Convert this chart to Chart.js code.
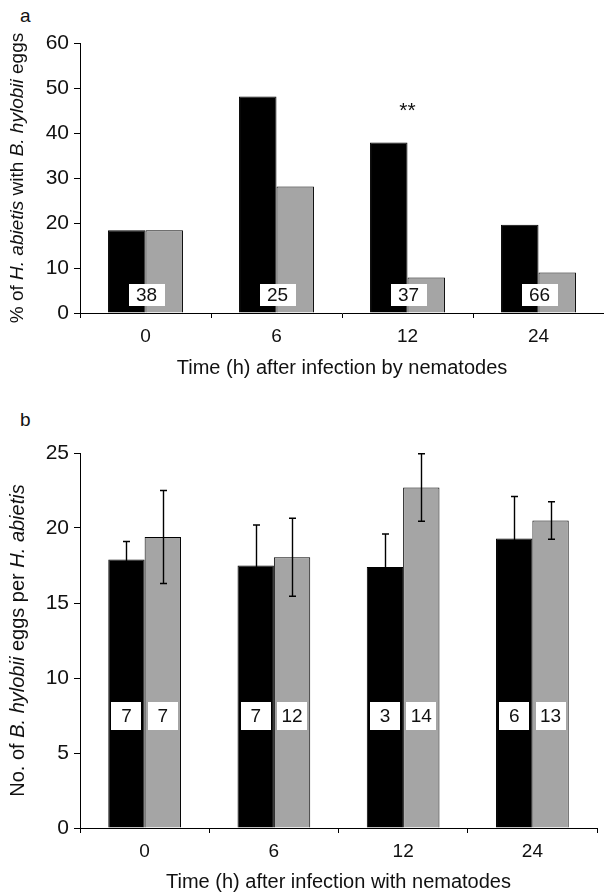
<!DOCTYPE html>
<html><head><meta charset="utf-8">
<script src="https://cdn.jsdelivr.net/npm/chart.js@4.4.0/dist/chart.umd.min.js"></script>
<style>
html,body{margin:0;padding:0;background:#fff;width:604px;height:896px;overflow:hidden;font-family:"Liberation Sans",Arial,sans-serif;}
canvas{position:absolute;left:0;}
#ca{top:0}
#cb{top:400px}
.lbl{position:absolute;font-size:19px;color:#111;line-height:1;}
</style></head><body>
<div class="lbl" style="left:20px;top:6px">a</div>
<div class="lbl" style="left:20px;top:410px">b</div>
<canvas id="ca" width="604" height="400"></canvas>
<canvas id="cb" width="604" height="496"></canvas>
<script>
const categories = ['0', '6', '12', '24'];

// Panel a: % of H. abietis with B. hylobii eggs
const aBlack = [18.4, 48.1, 37.9, 19.6];
const aGray = [18.4, 28.1, 7.9, 9.0];
const aSampleSizes = ['38', '25', '37', '66'];
const aSignificance = ['', '', '**', ''];
const aYTicks = [0, 10, 20, 30, 40, 50, 60];

// Panel b: No. of B. hylobii eggs per H. abietis (mean ± error)
const bBlack = [17.9, 17.5, 17.4, 19.3];
const bBlackErr = [1.2, 2.7, 2.2, 2.8];
const bGray = [19.4, 18.05, 22.7, 20.5];
const bGrayErr = [3.1, 2.6, 2.25, 1.25];
const bBlackN = ['7', '7', '3', '6'];
const bGrayN = ['7', '12', '14', '13'];
const bYTicks = [0, 5, 10, 15, 20, 25];

const FAM = '"Liberation Sans", Arial, Helvetica, sans-serif';
const TXT = '#111';
const GRAY = '#a5a5a5';

function drawRichRotated(ctx, segs, cx, cy, size) {
  ctx.save();
  ctx.translate(cx, cy);
  ctx.rotate(-Math.PI / 2);
  let total = 0;
  const widths = segs.map(s => {
    ctx.font = (s[1] ? 'italic ' : '') + size + 'px ' + FAM;
    const w = ctx.measureText(s[0]).width; total += w; return w;
  });
  let x = -total / 2;
  ctx.textBaseline = 'middle';
  ctx.textAlign = 'left';
  ctx.fillStyle = TXT;
  segs.forEach((s, i) => {
    ctx.font = (s[1] ? 'italic ' : '') + size + 'px ' + FAM;
    ctx.fillText(s[0], x, 0);
    x += widths[i];
  });
  ctx.restore();
}

function titlesPlugin(xTitle, ySegs, ySize, xOff) {
  return {
    id: 'titles',
    afterDraw(chart) {
      const ctx = chart.ctx, a = chart.chartArea;
      ctx.save();
      ctx.fillStyle = TXT;
      ctx.font = '20px ' + FAM;
      ctx.textAlign = 'center';
      ctx.textBaseline = 'middle';
      ctx.fillText(xTitle, (a.left + a.right) / 2, a.bottom + xOff);
      ctx.restore();
      drawRichRotated(ctx, ySegs, 18, (a.top + a.bottom) / 2, ySize);
    }
  };
}

function labelBox(ctx, text, cx, cy, w, h) {
  ctx.fillStyle = '#fff';
  ctx.fillRect(Math.round(cx - w / 2), Math.round(cy - h / 2), w, h);
  ctx.fillStyle = TXT;
  ctx.font = '19px ' + FAM;
  ctx.textAlign = 'center';
  ctx.textBaseline = 'middle';
  ctx.fillText(text, cx, cy + 1);
}

function axisCommon(minV, maxV, step) {
  return {
    min: minV, max: maxV,
    ticks: { stepSize: step, font: { size: 21, family: FAM }, color: TXT, padding: 5 },
    grid: { drawOnChartArea: false, drawTicks: true, tickLength: 6, color: '#000', lineWidth: 1 },
    border: { display: true, color: '#000', width: 1 },
    afterFit(s) { s.width = 80; }
  };
}

function xAxis(h) {
  return {
    grid: { offset: true, drawOnChartArea: false, drawTicks: true, tickLength: 5, color: '#000', lineWidth: 1 },
    border: { display: true, color: '#000', width: 1 },
    ticks: { font: { size: 19, family: FAM }, color: TXT, padding: 7 },
    afterFit(s) { s.height = h; }
  };
}

// ---------- Chart a ----------
const aPlugin = {
  id: 'aLabels',
  afterDatasetsDraw(chart) {
    const ctx = chart.ctx, xs = chart.scales.x, ys = chart.scales.y;
    ctx.save();
    categories.forEach((c, i) => {
      labelBox(ctx, aSampleSizes[i], xs.getPixelForValue(i) + 1, ys.getPixelForValue(4), 36, 22);
      if (aSignificance[i]) {
        ctx.fillStyle = TXT;
        ctx.font = '21px ' + FAM;
        ctx.textAlign = 'center';
        ctx.textBaseline = 'alphabetic';
        ctx.fillText(aSignificance[i], xs.getPixelForValue(i), ys.getPixelForValue(43.6));
      }
    });
    ctx.restore();
  }
};

new Chart(document.getElementById('ca'), {
  type: 'bar',
  data: {
    labels: categories,
    datasets: [
      { data: aBlack, backgroundColor: '#000', borderColor: '#000', borderWidth: 1, categoryPercentage: 0.572, barPercentage: 1 },
      { data: aGray, backgroundColor: GRAY, borderColor: '#000', borderWidth: 1, categoryPercentage: 0.572, barPercentage: 1 }
    ]
  },
  options: {
    responsive: false, animation: false, devicePixelRatio: 1,
    layout: { padding: { top: 43, right: 0, left: 0, bottom: 0 } },
    plugins: { legend: { display: false }, tooltip: { enabled: false } },
    scales: {
      x: xAxis(400 - 313),
      y: axisCommon(aYTicks[0], aYTicks[aYTicks.length - 1], aYTicks[1] - aYTicks[0])
    }
  },
  plugins: [aPlugin, titlesPlugin('Time (h) after infection by nematodes',
    [['% of ', false], ['H. abietis', true], [' with ', false], ['B. hylobii', true], [' eggs', false]], 19, 55)]
});

// ---------- Chart b ----------
const bPlugin = {
  id: 'bLabels',
  afterDatasetsDraw(chart) {
    const ctx = chart.ctx, ys = chart.scales.y;
    ctx.save();
    const errs = [bBlackErr, bGrayErr];
    const vals = [bBlack, bGray];
    const ns = [bBlackN, bGrayN];
    [0, 1].forEach(d => {
      const meta = chart.getDatasetMeta(d);
      meta.data.forEach((el, i) => {
        const x = Math.round(el.x) + 0.5;
        const yt = ys.getPixelForValue(vals[d][i] + errs[d][i]);
        const yb = ys.getPixelForValue(vals[d][i] - errs[d][i]);
        ctx.strokeStyle = '#000';
        ctx.lineWidth = 1.4;
        ctx.beginPath();
        ctx.moveTo(x, yt); ctx.lineTo(x, yb);
        ctx.moveTo(x - 3.5, yt); ctx.lineTo(x + 3.5, yt);
        ctx.moveTo(x - 3.5, yb); ctx.lineTo(x + 3.5, yb);
        ctx.stroke();
      });
    });
    [0, 1].forEach(d => {
      const meta = chart.getDatasetMeta(d);
      meta.data.forEach((el, i) => {
        labelBox(ctx, ns[d][i], el.x, ys.getPixelForValue(7.45), 30, 28);
      });
    });
    ctx.restore();
  }
};

new Chart(document.getElementById('cb'), {
  type: 'bar',
  data: {
    labels: categories,
    datasets: [
      { data: bBlack, backgroundColor: '#000', borderColor: '#000', borderWidth: 1, categoryPercentage: 0.5625, barPercentage: 1 },
      { data: bGray, backgroundColor: GRAY, borderColor: '#000', borderWidth: 1, categoryPercentage: 0.5625, barPercentage: 1 }
    ]
  },
  options: {
    responsive: false, animation: false, devicePixelRatio: 1,
    layout: { padding: { top: 53, right: 7, left: 0, bottom: 0 } },
    plugins: { legend: { display: false }, tooltip: { enabled: false } },
    scales: {
      x: xAxis(496 - 428),
      y: axisCommon(bYTicks[0], bYTicks[bYTicks.length - 1], bYTicks[1] - bYTicks[0])
    }
  },
  plugins: [bPlugin, titlesPlugin('Time (h) after infection with nematodes',
    [['No. of ', false], ['B. hylobii', true], [' eggs per ', false], ['H. abietis', true]], 20, 54)]
});
</script>
</body></html>
